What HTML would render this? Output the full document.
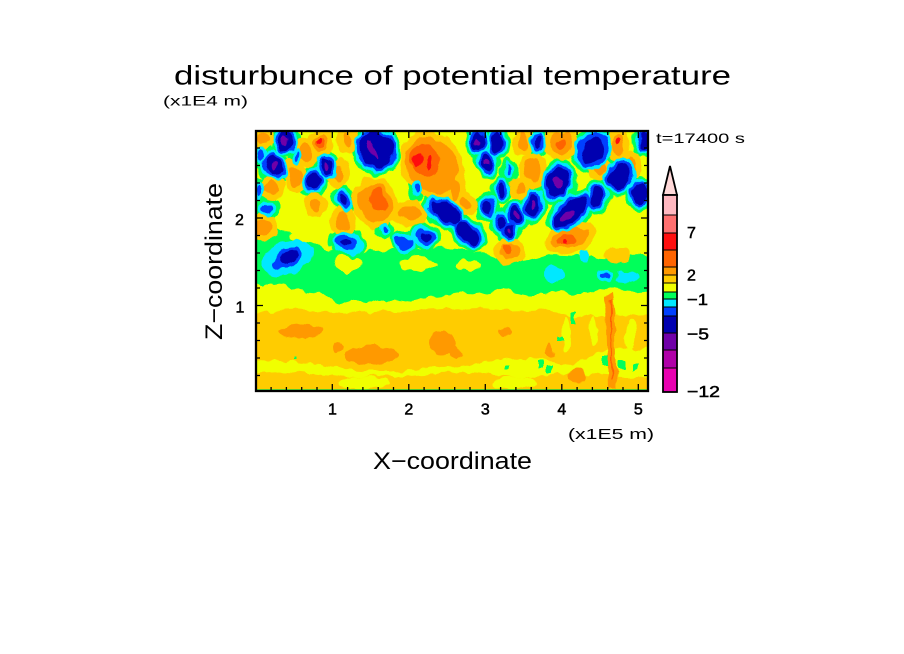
<!DOCTYPE html>
<html><head><meta charset="utf-8"><style>
html,body{margin:0;padding:0;background:#fff;}
svg{display:block;}
text{font-family:"Liberation Sans",sans-serif;fill:#000;}
</style></head><body>
<svg width="904" height="654" viewBox="0 0 904 654" xmlns="http://www.w3.org/2000/svg">
<defs>
<clipPath id="pc"><rect x="256" y="131" width="392" height="260"/></clipPath>
<filter id="wob" x="240" y="115" width="425" height="295" filterUnits="userSpaceOnUse">
<feTurbulence type="fractalNoise" baseFrequency="0.09 0.06" numOctaves="2" seed="7" result="n"/>
<feDisplacementMap in="SourceGraphic" in2="n" scale="9" xChannelSelector="R" yChannelSelector="G"/>
</filter>
</defs>
<rect width="904" height="654" fill="#fff"/>
<g clip-path="url(#pc)">
<g filter="url(#wob)">
<rect x="240" y="115" width="425" height="295" fill="#f0ff00"/>
<!-- lower gold bands -->
<polygon fill="#ffcc00" points="250,314 275,311 300,310 330,312 360,313 390,311 420,311 450,309 480,308 510,310 540,309 560,312 575,318 590,315 610,318 630,314 655,316 655,345 635,350 620,348 600,352 585,360 570,365 555,362 540,360 520,358 500,360 480,362 465,366 450,368 430,366 410,370 390,372 370,372 350,370 330,366 310,364 290,362 270,360 250,358"/>
<polygon fill="#ffcc00" points="250,374 280,372 320,375 345,378 380,376 410,376 440,374 470,373 500,376 530,378 560,372 600,375 630,378 655,376 655,400 250,400"/>
<ellipse cx="365" cy="383" rx="25" ry="6" fill="#f0ff00"/>
<ellipse cx="515" cy="383" rx="22" ry="6" fill="#f0ff00"/>
<ellipse cx="566" cy="335" rx="4" ry="18" fill="#f0ff00"/>
<ellipse cx="594" cy="330" rx="4" ry="14" fill="#f0ff00"/>
<ellipse cx="630" cy="335" rx="5" ry="16" fill="#f0ff00"/>
<!-- orange patches -->
<g fill="#ff9900">
<ellipse cx="300" cy="331" rx="22" ry="6"/>
<ellipse cx="372" cy="355" rx="26" ry="9"/>
<ellipse cx="442" cy="342" rx="13" ry="12"/>
<ellipse cx="455" cy="352" rx="8" ry="6"/>
<ellipse cx="578" cy="375" rx="10" ry="8"/>
<ellipse cx="505" cy="332" rx="7" ry="4"/>
<ellipse cx="338" cy="348" rx="5" ry="5"/>
<ellipse cx="550" cy="350" rx="4" ry="8"/>
<polygon points="605,295 612,293 616,330 617,386 608,386 606,330"/>
</g>
<line x1="611" y1="300" x2="612" y2="380" stroke="#ff6400" stroke-width="1.5"/>
<!-- green speckles lower -->
<g fill="#00ff5a">
<rect x="537" y="362" width="6" height="5"/><rect x="547" y="366" width="5" height="6"/>
<rect x="603" y="356" width="5" height="10"/><rect x="618" y="360" width="8" height="8"/>
<rect x="633" y="364" width="5" height="7"/><rect x="571" y="312" width="4" height="12"/>
<rect x="558" y="336" width="5" height="5"/><rect x="294" y="358" width="3" height="3"/>
<rect x="505" y="366" width="4" height="4"/>
</g>
<!-- green band -->
<polygon fill="#00ff5a" points="245,222 270,225 290,232 310,240 325,248 340,252 360,252 390,250 420,250 445,248 470,250 490,256 510,262 530,260 550,255 580,256 610,258 630,255 655,254 655,290 635,292 620,291 600,288 590,292 575,294 560,292 545,295 530,295 515,292 500,288 490,292 475,294 460,293 450,296 435,295 420,298 410,302 395,300 385,304 375,300 365,305 355,300 345,303 335,300 325,298 318,293 305,292 295,288 283,285 270,284 245,284"/>
<ellipse cx="348" cy="264" rx="15" ry="9" fill="#f0ff00"/>
<ellipse cx="418" cy="264" rx="18" ry="7" fill="#f0ff00"/>
<ellipse cx="468" cy="265" rx="12" ry="5" fill="#f0ff00"/>
<ellipse cx="300" cy="236" rx="12" ry="6" fill="#f0ff00"/>
<g fill="#00e8ff">
<ellipse cx="555" cy="274" rx="10" ry="8"/>
<ellipse cx="585" cy="255" rx="4" ry="7"/>
<ellipse cx="625" cy="277" rx="12" ry="6"/>
<ellipse cx="287" cy="258" rx="27" ry="17" transform="rotate(-20 287 258)"/>
</g>
<!-- negative halos: green -->
<g fill="#00ff5a">
<ellipse cx="285" cy="141" rx="15" ry="18" transform="rotate(10 285 141)"/>
<ellipse cx="274" cy="166" rx="15" ry="18" transform="rotate(-30 274 166)"/>
<ellipse cx="327" cy="167" rx="13" ry="17" transform="rotate(-20 327 167)"/>
<ellipse cx="314" cy="181" rx="15" ry="16"/>
<ellipse cx="343" cy="200" rx="12" ry="15" transform="rotate(-15 343 200)"/>
<ellipse cx="376" cy="150" rx="24" ry="26" transform="rotate(-20 376 150)"/>
<ellipse cx="445" cy="212" rx="25" ry="16" transform="rotate(35 445 212)"/>
<ellipse cx="468" cy="233" rx="22" ry="15" transform="rotate(40 468 233)"/>
<ellipse cx="348" cy="243" rx="19" ry="14" transform="rotate(10 348 243)"/>
<ellipse cx="404" cy="243" rx="15" ry="13"/>
<ellipse cx="424" cy="236" rx="16" ry="14" transform="rotate(30 424 236)"/>
<ellipse cx="478" cy="141" rx="13" ry="17"/>
<ellipse cx="497" cy="143" rx="13" ry="18"/>
<ellipse cx="487" cy="162" rx="13" ry="16"/>
<ellipse cx="501" cy="190" rx="11" ry="15"/>
<ellipse cx="487" cy="208" rx="13" ry="15"/>
<ellipse cx="501" cy="223" rx="12" ry="14"/>
<ellipse cx="509" cy="231" rx="13" ry="14"/>
<ellipse cx="516" cy="215" rx="14" ry="16"/>
<ellipse cx="533" cy="205" rx="14" ry="20" transform="rotate(10 533 205)"/>
<ellipse cx="538" cy="143" rx="11" ry="15"/>
<ellipse cx="558" cy="182" rx="19" ry="23" transform="rotate(20 558 182)"/>
<ellipse cx="571" cy="212" rx="28" ry="18" transform="rotate(-40 571 212)"/>
<ellipse cx="593" cy="150" rx="21" ry="24" transform="rotate(30 593 150)"/>
<ellipse cx="597" cy="197" rx="14" ry="18"/>
<ellipse cx="620" cy="176" rx="18" ry="22" transform="rotate(20 620 176)"/>
<ellipse cx="640" cy="193" rx="15" ry="18"/>
<ellipse cx="644" cy="141" rx="12" ry="17"/>
<ellipse cx="261" cy="155" rx="10" ry="13"/>
<ellipse cx="297" cy="156" rx="9" ry="12"/>
<ellipse cx="260" cy="190" rx="10" ry="14"/>
<ellipse cx="267" cy="209" rx="14" ry="11" transform="rotate(-20 267 209)"/>
<ellipse cx="416" cy="190" rx="10" ry="12"/>
<ellipse cx="385" cy="230" rx="10" ry="10"/>
<ellipse cx="509" cy="170" rx="9" ry="13"/>
<ellipse cx="606" cy="276" rx="13" ry="10"/>
</g>
<!-- positive: gold -->
<g fill="#ffcc00">
<ellipse cx="321" cy="143" rx="13" ry="14"/>
<ellipse cx="306" cy="153" rx="12" ry="15" transform="rotate(-20 306 153)"/>
<ellipse cx="295" cy="176" rx="12" ry="17" transform="rotate(-20 295 176)"/>
<ellipse cx="272" cy="188" rx="13" ry="12"/>
<ellipse cx="338" cy="173" rx="11" ry="15"/>
<ellipse cx="375" cy="203" rx="23" ry="26" transform="rotate(-20 375 203)"/>
<ellipse cx="432" cy="165" rx="30" ry="36" transform="rotate(-30 432 165)"/>
<ellipse cx="343" cy="221" rx="13" ry="15"/>
<ellipse cx="315" cy="205" rx="12" ry="12"/>
<ellipse cx="263" cy="228" rx="16" ry="14"/>
<ellipse cx="410" cy="213" rx="18" ry="13"/>
<ellipse cx="455" cy="190" rx="11" ry="18"/>
<ellipse cx="466" cy="204" rx="11" ry="11"/>
<ellipse cx="561" cy="143" rx="18" ry="18"/>
<ellipse cx="523" cy="140" rx="11" ry="16"/>
<ellipse cx="533" cy="170" rx="14" ry="18"/>
<ellipse cx="618" cy="145" rx="12" ry="17"/>
<ellipse cx="570" cy="238" rx="26" ry="15" transform="rotate(-15 570 238)"/>
<ellipse cx="510" cy="251" rx="16" ry="13"/>
<ellipse cx="600" cy="168" rx="12" ry="12"/>
<ellipse cx="347" cy="140" rx="11" ry="14"/>
<ellipse cx="262" cy="138" rx="12" ry="12"/>
<ellipse cx="632" cy="165" rx="10" ry="14"/>
<ellipse cx="520" cy="188" rx="11" ry="12"/>
<ellipse cx="618" cy="255" rx="14" ry="8"/>
</g>
<!-- positive: orange -->
<g fill="#ff9900">
<ellipse cx="321" cy="143" rx="7" ry="8"/>
<ellipse cx="306" cy="153" rx="6" ry="9" transform="rotate(-20 306 153)"/>
<ellipse cx="295" cy="176" rx="6" ry="11" transform="rotate(-20 295 176)"/>
<ellipse cx="272" cy="188" rx="7" ry="6"/>
<ellipse cx="338" cy="173" rx="5" ry="9"/>
<ellipse cx="375" cy="203" rx="17" ry="20" transform="rotate(-20 375 203)"/>
<ellipse cx="432" cy="165" rx="24" ry="30" transform="rotate(-30 432 165)"/>
<ellipse cx="343" cy="221" rx="7" ry="9"/>
<ellipse cx="315" cy="205" rx="6" ry="6"/>
<ellipse cx="263" cy="228" rx="10" ry="8"/>
<ellipse cx="410" cy="213" rx="12" ry="7"/>
<ellipse cx="455" cy="190" rx="5" ry="12"/>
<ellipse cx="466" cy="204" rx="5" ry="5"/>
<ellipse cx="561" cy="143" rx="12" ry="12"/>
<ellipse cx="523" cy="140" rx="5" ry="10"/>
<ellipse cx="533" cy="170" rx="8" ry="12"/>
<ellipse cx="618" cy="145" rx="6" ry="11"/>
<ellipse cx="570" cy="238" rx="20" ry="9" transform="rotate(-15 570 238)"/>
<ellipse cx="510" cy="251" rx="10" ry="7"/>
<ellipse cx="600" cy="168" rx="6" ry="6"/>
<ellipse cx="347" cy="140" rx="5" ry="8"/>
<ellipse cx="262" cy="138" rx="6" ry="6"/>
<ellipse cx="632" cy="165" rx="4" ry="8"/>
<ellipse cx="520" cy="188" rx="5" ry="6"/>
</g>
<g fill="#ff6400">
<ellipse cx="321" cy="143" rx="4" ry="5"/>
<ellipse cx="378" cy="200" rx="8" ry="12" transform="rotate(-20 378 200)"/>
<ellipse cx="425" cy="160" rx="14" ry="17" transform="rotate(-30 425 160)"/>
<ellipse cx="567" cy="240" rx="10" ry="5" transform="rotate(-15 567 240)"/>
<ellipse cx="561" cy="143" rx="5" ry="5"/>
<ellipse cx="507" cy="250" rx="5" ry="4"/>
</g>
<g fill="#ff1010">
<ellipse cx="320" cy="141" rx="2" ry="3"/>
<ellipse cx="417" cy="160" rx="4" ry="7"/>
<ellipse cx="428" cy="163" rx="3" ry="6"/>
<ellipse cx="618" cy="142" rx="2" ry="4"/>
<ellipse cx="565" cy="243" rx="2" ry="2"/>
</g>
<!-- negative: cyan -->
<g fill="#00e8ff">
<ellipse cx="285" cy="141" rx="12" ry="15" transform="rotate(10 285 141)"/>
<ellipse cx="274" cy="166" rx="12" ry="15" transform="rotate(-30 274 166)"/>
<ellipse cx="327" cy="167" rx="10" ry="14" transform="rotate(-20 327 167)"/>
<ellipse cx="314" cy="181" rx="12" ry="13"/>
<ellipse cx="343" cy="200" rx="9" ry="12" transform="rotate(-15 343 200)"/>
<ellipse cx="376" cy="150" rx="21" ry="23" transform="rotate(-20 376 150)"/>
<ellipse cx="445" cy="212" rx="22" ry="13" transform="rotate(35 445 212)"/>
<ellipse cx="468" cy="233" rx="19" ry="12" transform="rotate(40 468 233)"/>
<ellipse cx="348" cy="243" rx="16" ry="11" transform="rotate(10 348 243)"/>
<ellipse cx="404" cy="243" rx="12" ry="10"/>
<ellipse cx="424" cy="236" rx="13" ry="11" transform="rotate(30 424 236)"/>
<ellipse cx="478" cy="141" rx="10" ry="14"/>
<ellipse cx="497" cy="143" rx="10" ry="15"/>
<ellipse cx="487" cy="162" rx="10" ry="13"/>
<ellipse cx="501" cy="190" rx="8" ry="12"/>
<ellipse cx="487" cy="208" rx="10" ry="12"/>
<ellipse cx="501" cy="223" rx="9" ry="11"/>
<ellipse cx="509" cy="231" rx="10" ry="11"/>
<ellipse cx="516" cy="215" rx="11" ry="13"/>
<ellipse cx="533" cy="205" rx="11" ry="17" transform="rotate(10 533 205)"/>
<ellipse cx="538" cy="143" rx="8" ry="12"/>
<ellipse cx="558" cy="182" rx="16" ry="20" transform="rotate(20 558 182)"/>
<ellipse cx="571" cy="212" rx="25" ry="15" transform="rotate(-40 571 212)"/>
<ellipse cx="593" cy="150" rx="18" ry="21" transform="rotate(30 593 150)"/>
<ellipse cx="597" cy="197" rx="11" ry="15"/>
<ellipse cx="620" cy="176" rx="15" ry="19" transform="rotate(20 620 176)"/>
<ellipse cx="640" cy="193" rx="12" ry="15"/>
<ellipse cx="644" cy="141" rx="9" ry="14"/>
<ellipse cx="261" cy="155" rx="6" ry="9"/>
<ellipse cx="297" cy="156" rx="5" ry="8"/>
<ellipse cx="260" cy="190" rx="6" ry="10"/>
<ellipse cx="267" cy="209" rx="10" ry="7" transform="rotate(-20 267 209)"/>
<ellipse cx="416" cy="190" rx="6" ry="8"/>
<ellipse cx="385" cy="230" rx="6" ry="6"/>
<ellipse cx="509" cy="170" rx="5" ry="9"/>
<ellipse cx="606" cy="276" rx="9" ry="6"/>
</g>
<!-- negative: blue -->
<g fill="#0040ff">
<ellipse cx="285" cy="141" rx="9.5" ry="12.5" transform="rotate(10 285 141)"/>
<ellipse cx="274" cy="166" rx="9.5" ry="12.5" transform="rotate(-30 274 166)"/>
<ellipse cx="327" cy="167" rx="7.5" ry="11.5" transform="rotate(-20 327 167)"/>
<ellipse cx="314" cy="181" rx="9.5" ry="10.5"/>
<ellipse cx="343" cy="200" rx="6.5" ry="9.5" transform="rotate(-15 343 200)"/>
<ellipse cx="376" cy="150" rx="18.5" ry="20.5" transform="rotate(-20 376 150)"/>
<ellipse cx="445" cy="212" rx="19.5" ry="10.5" transform="rotate(35 445 212)"/>
<ellipse cx="468" cy="233" rx="16.5" ry="9.5" transform="rotate(40 468 233)"/>
<ellipse cx="346" cy="242" rx="12" ry="7" transform="rotate(10 346 242)"/>
<ellipse cx="404" cy="243" rx="9.5" ry="6.5"/>
<ellipse cx="426" cy="236" rx="9.5" ry="7.5" transform="rotate(30 426 236)"/>
<ellipse cx="287" cy="258" rx="16" ry="9" transform="rotate(-25 287 258)"/>
<ellipse cx="478" cy="141" rx="7.5" ry="11.5"/>
<ellipse cx="497" cy="143" rx="7.5" ry="12.5"/>
<ellipse cx="487" cy="162" rx="7.5" ry="10.5"/>
<ellipse cx="501" cy="190" rx="5.5" ry="9.5"/>
<ellipse cx="487" cy="208" rx="7.5" ry="9.5"/>
<ellipse cx="501" cy="223" rx="6.5" ry="8.5"/>
<ellipse cx="509" cy="231" rx="7.5" ry="8.5"/>
<ellipse cx="516" cy="215" rx="8.5" ry="10.5"/>
<ellipse cx="533" cy="205" rx="8.5" ry="14.5" transform="rotate(10 533 205)"/>
<ellipse cx="538" cy="143" rx="5.5" ry="9.5"/>
<ellipse cx="558" cy="182" rx="13.5" ry="17.5" transform="rotate(20 558 182)"/>
<ellipse cx="571" cy="212" rx="22.5" ry="12.5" transform="rotate(-40 571 212)"/>
<ellipse cx="593" cy="150" rx="15" ry="18" transform="rotate(30 593 150)"/>
<ellipse cx="597" cy="197" rx="8.5" ry="12.5"/>
<ellipse cx="620" cy="176" rx="12.5" ry="16.5" transform="rotate(20 620 176)"/>
<ellipse cx="640" cy="193" rx="9.5" ry="12.5"/>
<ellipse cx="644" cy="141" rx="6.5" ry="11.5"/>
<ellipse cx="261" cy="155" rx="3" ry="6"/>
<ellipse cx="297" cy="156" rx="2" ry="5"/>
<ellipse cx="260" cy="190" rx="3" ry="7"/>
<ellipse cx="267" cy="209" rx="7" ry="4" transform="rotate(-20 267 209)"/>
<ellipse cx="416" cy="190" rx="3" ry="5"/>
<ellipse cx="385" cy="230" rx="3" ry="3"/>
<ellipse cx="509" cy="170" rx="2" ry="6"/>
<ellipse cx="606" cy="276" rx="6" ry="3"/>
</g>
<!-- negative: dark blue -->
<g fill="#0000b0">
<ellipse cx="285" cy="141" rx="7" ry="10" transform="rotate(10 285 141)"/>
<ellipse cx="274" cy="166" rx="7" ry="10" transform="rotate(-30 274 166)"/>
<ellipse cx="327" cy="167" rx="5" ry="9" transform="rotate(-20 327 167)"/>
<ellipse cx="314" cy="181" rx="7" ry="8"/>
<ellipse cx="343" cy="200" rx="4" ry="7" transform="rotate(-15 343 200)"/>
<ellipse cx="376" cy="150" rx="16" ry="18" transform="rotate(-20 376 150)"/>
<ellipse cx="445" cy="212" rx="17" ry="8" transform="rotate(35 445 212)"/>
<ellipse cx="468" cy="233" rx="14" ry="7" transform="rotate(40 468 233)"/>
<ellipse cx="346" cy="242" rx="5" ry="3"/>
<ellipse cx="426" cy="236" rx="5" ry="4" transform="rotate(30 426 236)"/>
<ellipse cx="289" cy="257" rx="10" ry="5" transform="rotate(-25 289 257)"/>
<ellipse cx="478" cy="141" rx="5" ry="9"/>
<ellipse cx="497" cy="143" rx="5" ry="10"/>
<ellipse cx="487" cy="162" rx="5" ry="8"/>
<ellipse cx="501" cy="190" rx="3" ry="7"/>
<ellipse cx="487" cy="208" rx="5" ry="7"/>
<ellipse cx="501" cy="223" rx="4" ry="6"/>
<ellipse cx="509" cy="231" rx="5" ry="6"/>
<ellipse cx="516" cy="215" rx="6" ry="8"/>
<ellipse cx="533" cy="205" rx="6" ry="12" transform="rotate(10 533 205)"/>
<ellipse cx="538" cy="143" rx="3" ry="7"/>
<ellipse cx="558" cy="182" rx="11" ry="15" transform="rotate(20 558 182)"/>
<ellipse cx="571" cy="212" rx="20" ry="10" transform="rotate(-40 571 212)"/>
<ellipse cx="593" cy="150" rx="10" ry="13" transform="rotate(30 593 150)"/>
<ellipse cx="597" cy="197" rx="6" ry="10"/>
<ellipse cx="620" cy="176" rx="10" ry="14" transform="rotate(20 620 176)"/>
<ellipse cx="640" cy="193" rx="7" ry="10"/>
<ellipse cx="644" cy="141" rx="4" ry="9"/>
</g>
<!-- purple cores -->
<g fill="#7000a8">
<ellipse cx="285" cy="141" rx="2.8" ry="4"/>
<ellipse cx="274" cy="166" rx="2.8" ry="4"/>
<ellipse cx="327" cy="167" rx="2" ry="3.6"/>
<ellipse cx="372" cy="150" rx="3" ry="10" transform="rotate(-25 372 150)"/>
<ellipse cx="478" cy="141" rx="2" ry="3.6"/>
<ellipse cx="487" cy="162" rx="2" ry="3.2"/>
<ellipse cx="509" cy="231" rx="2" ry="2.4"/>
<ellipse cx="516" cy="215" rx="2.4" ry="3.2"/>
<ellipse cx="533" cy="205" rx="2.4" ry="4.8"/>
<ellipse cx="558" cy="182" rx="4.4" ry="6"/>
<ellipse cx="568" cy="215" rx="8" ry="4" transform="rotate(-40 568 215)"/>
</g>
</g>
<rect x="256" y="389" width="392" height="2" fill="#00ff5a" opacity="0.6"/>
</g>
<!-- frame -->
<rect x="256" y="131" width="392" height="260" fill="none" stroke="#000" stroke-width="2.3"/>
<g stroke="#000" stroke-width="1.3">
<path d="M271.1,391v-4M286.4,391v-4M301.7,391v-4M317,391v-4M332.3,391v-7M347.6,391v-4M362.9,391v-4M378.2,391v-4M393.5,391v-4M408.8,391v-7M424.1,391v-4M439.4,391v-4M454.7,391v-4M470,391v-4M485.3,391v-7M500.6,391v-4M515.9,391v-4M531.2,391v-4M546.5,391v-4M561.8,391v-7M577.1,391v-4M592.4,391v-4M607.7,391v-4M623,391v-4M638.3,391v-7"/>
<path d="M271.1,131v4M286.4,131v4M301.7,131v4M317,131v4M332.3,131v7M347.6,131v4M362.9,131v4M378.2,131v4M393.5,131v4M408.8,131v7M424.1,131v4M439.4,131v4M454.7,131v4M470,131v4M485.3,131v7M500.6,131v4M515.9,131v4M531.2,131v4M546.5,131v4M561.8,131v7M577.1,131v4M592.4,131v4M607.7,131v4M623,131v4M638.3,131v7"/>
<path d="M256,375.5h4M256,358h4M256,340.5h4M256,323h4M256,305.5h7M256,288h4M256,270.5h4M256,253h4M256,235.5h4M256,218h7M256,200.5h4M256,183h4M256,165.5h4M256,148h4"/>
<path d="M648,375.5h-4M648,358h-4M648,340.5h-4M648,323h-4M648,305.5h-7M648,288h-4M648,270.5h-4M648,253h-4M648,235.5h-4M648,218h-7M648,200.5h-4M648,183h-4M648,165.5h-4M648,148h-4"/>
</g>
<!-- colorbar -->
<g>
<polygon points="663,195 677,195 670,166" fill="#ffd8d8" stroke="#000" stroke-width="1.8"/>
<rect x="663" y="195" width="14" height="20" fill="#ffb8c0"/>
<rect x="663" y="215" width="14" height="18" fill="#ff7070"/>
<rect x="663" y="233" width="14" height="17" fill="#ff1010"/>
<rect x="663" y="250" width="14" height="17" fill="#ff6400"/>
<rect x="663" y="267" width="14" height="8" fill="#ff9900"/>
<rect x="663" y="275" width="14" height="8" fill="#ffcc00"/>
<rect x="663" y="283" width="14" height="9" fill="#f0ff00"/>
<rect x="663" y="292" width="14" height="7" fill="#00ff5a"/>
<rect x="663" y="299" width="14" height="8" fill="#00e8ff"/>
<rect x="663" y="307" width="14" height="9" fill="#0040ff"/>
<rect x="663" y="316" width="14" height="17" fill="#0000b0"/>
<rect x="663" y="333" width="14" height="17" fill="#7000a8"/>
<rect x="663" y="350" width="14" height="18" fill="#b000a8"/>
<rect x="663" y="368" width="14" height="24" fill="#e800b0"/>
<path d="M663,215h14M663,233h14M663,250h14M663,267h14M663,275h14M663,283h14M663,292h14M663,299h14M663,307h14M663,316h14M663,333h14M663,350h14M663,368h14" stroke="#000" stroke-width="1"/>
<rect x="663" y="195" width="14" height="197" fill="none" stroke="#000" stroke-width="1.8"/>
</g>
<!-- texts -->
<text x="174" y="84.5" font-size="27" textLength="557" lengthAdjust="spacingAndGlyphs">disturbunce of potential temperature</text>
<text x="163" y="105.5" font-size="14" textLength="85" lengthAdjust="spacingAndGlyphs">(x1E4 m)</text>
<text x="656" y="143" font-size="14" textLength="89" lengthAdjust="spacingAndGlyphs">t=17400 s</text>
<g font-size="16" stroke="#000" stroke-width="0.5">
<text x="687" y="238">7</text>
<text x="687" y="280.5">2</text>
<text x="687" y="305" textLength="21" lengthAdjust="spacingAndGlyphs">−1</text>
<text x="687" y="339.5" textLength="22" lengthAdjust="spacingAndGlyphs">−5</text>
<text x="687" y="397" textLength="33" lengthAdjust="spacingAndGlyphs">−12</text>
<text x="332.5" y="414.5" text-anchor="middle">1</text>
<text x="408.8" y="414.5" text-anchor="middle">2</text>
<text x="485.3" y="414.5" text-anchor="middle">3</text>
<text x="561.8" y="414.5" text-anchor="middle">4</text>
<text x="638.3" y="414.5" text-anchor="middle">5</text>
<text x="239.5" y="225" text-anchor="middle">2</text>
<text x="240" y="312.5" text-anchor="middle">1</text>
</g>
<text x="568" y="439" font-size="15" textLength="86" lengthAdjust="spacingAndGlyphs">(x1E5 m)</text>
<text x="373" y="469" font-size="24" textLength="159" lengthAdjust="spacingAndGlyphs">X−coordinate</text>
<text transform="translate(222,340) rotate(-90)" x="0" y="0" font-size="24" textLength="157" lengthAdjust="spacingAndGlyphs">Z−coordinate</text>
</svg>
</body></html>
